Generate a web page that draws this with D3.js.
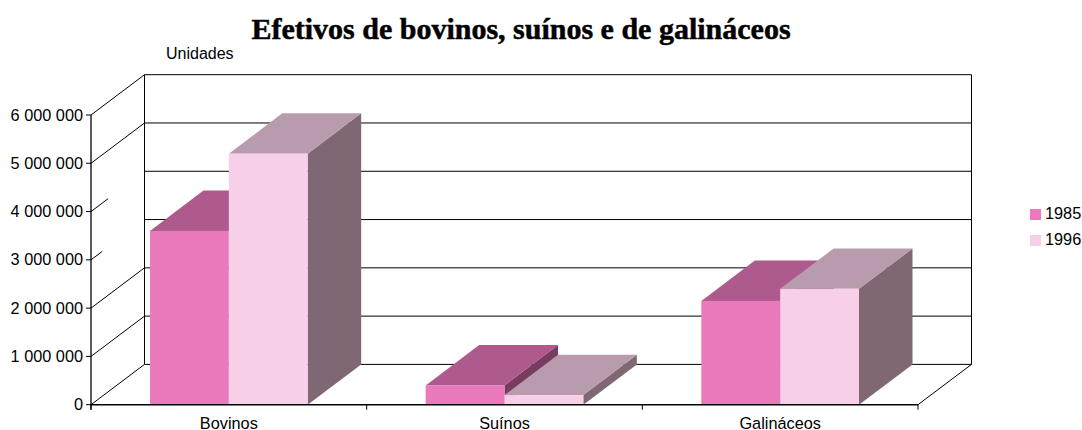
<!DOCTYPE html>
<html>
<head>
<meta charset="utf-8">
<script src="https://cdn.jsdelivr.net/npm/d3@7"></script>
<style>
  html, body { margin: 0; padding: 0; background: #fff; }
  text { font-family: "Liberation Sans", Arial, sans-serif; fill: #000; }
</style>
</head>
<body>
<div id="chart"></div>
<script>
// Chart data
var categories = ["Bovinos", "Suínos", "Galináceos"];
var years = ["1985", "1996"];
var values1985 = [3600000, 400000, 2150000];
var values1996 = [5200000, 200000, 2400000];
var yTicks = [0, 1000000, 2000000, 3000000, 4000000, 5000000, 6000000];

var width = 1082, height = 430;

// Front plane of the 3D box and how far back the depth goes
var front = {left: 91, right: 918, bottom: 404.7, top: 115};
var depth = {x: 53.5, y: -40.3};

// How much of each side wall line can be seen (two are cut short in the original)
var sideVisible = {0: 1, 1000000: 1, 2000000: 1, 3000000: 0.21, 4000000: 0.32, 5000000: 1, 6000000: 1};

var palette = {
  "1985": {front: "#ea7abc", top: "#ae5a8c", side: "#783c60"},
  "1996": {front: "#f7cfe9", top: "#b99bae", side: "#7f6873"}
};

var svg = d3.select("#chart")
  .append("svg")
    .attr("width", width)
    .attr("height", height)
    .style("display", "block");

var x = d3.scaleBand()
    .domain(categories)
    .range([front.left, front.right])
    .paddingInner(0.428)
    .paddingOuter(0.214);

var xSeries = d3.scaleBand()
    .domain(years)
    .range([0, x.bandwidth()]);

var y = d3.scaleLinear()
    .domain([0, 6000000])
    .range([front.bottom, front.top]);

var fmt = function(d) { return d3.format(",")(d).replace(/,/g, " "); };

// Back wall and side wall lines
var grid = svg.append("g").attr("fill", "none").attr("stroke", "#000");

grid.selectAll(".back")
  .data(yTicks)
  .join("line")
    .attr("class", "back")
    .attr("x1", front.left + depth.x)
    .attr("x2", front.right + depth.x)
    .attr("y1", function(d) { return y(d) + depth.y; })
    .attr("y2", function(d) { return y(d) + depth.y; })
    .attr("stroke-width", 1);

grid.selectAll(".side")
  .data(yTicks)
  .join("line")
    .attr("class", "side")
    .attr("x1", front.left)
    .attr("y1", function(d) { return y(d); })
    .attr("x2", function(d) { return front.left + depth.x * sideVisible[d]; })
    .attr("y2", function(d) { return y(d) + depth.y * sideVisible[d]; })
    .attr("stroke-width", 1);

// Back wall verticals and the floor edge on the right
grid.append("line")
    .attr("x1", front.left + depth.x).attr("x2", front.left + depth.x)
    .attr("y1", y(6000000) + depth.y).attr("y2", y(0) + depth.y);
grid.append("line")
    .attr("x1", front.right + depth.x).attr("x2", front.right + depth.x)
    .attr("y1", y(6000000) + depth.y).attr("y2", y(0) + depth.y);
grid.append("line")
    .attr("x1", front.right).attr("x2", front.right + depth.x)
    .attr("y1", y(0)).attr("y2", y(0) + depth.y);

// Flatten the two series into one list of bars
var bars = [];
categories.forEach(function(c, i) {
  bars.push({category: c, year: "1985", value: values1985[i]});
  bars.push({category: c, year: "1996", value: values1996[i]});
});

// Bars are drawn left to right so the next one covers the side of the previous one
var bar = svg.selectAll(".bar")
  .data(bars)
  .join("g")
    .attr("class", "bar");

function corners(d) {
  return {
    x0: x(d.category) + xSeries(d.year),
    x1: x(d.category) + xSeries(d.year) + xSeries.bandwidth(),
    y0: y(0),
    y1: y(d.value)
  };
}

// Side face
bar.append("path")
    .attr("fill", function(d) { return palette[d.year].side; })
    .attr("d", function(d) {
      var c = corners(d);
      return "M" + c.x1 + "," + c.y0 +
        "L" + (c.x1 + depth.x) + "," + (c.y0 + depth.y) +
        "L" + (c.x1 + depth.x) + "," + (c.y1 + depth.y) +
        "L" + c.x1 + "," + c.y1 + "Z";
    });

// Top face
bar.append("path")
    .attr("fill", function(d) { return palette[d.year].top; })
    .attr("d", function(d) {
      var c = corners(d);
      return "M" + c.x0 + "," + c.y1 +
        "L" + c.x1 + "," + c.y1 +
        "L" + (c.x1 + depth.x) + "," + (c.y1 + depth.y) +
        "L" + (c.x0 + depth.x) + "," + (c.y1 + depth.y) + "Z";
    });

// Front face
bar.append("rect")
    .attr("fill", function(d) { return palette[d.year].front; })
    .attr("x", function(d) { return corners(d).x0; })
    .attr("y", function(d) { return corners(d).y1; })
    .attr("width", xSeries.bandwidth())
    .attr("height", function(d) { return y(0) - y(d.value); });

// Y axis
var axisY = svg.append("g").attr("stroke", "#000");
axisY.append("line")
    .attr("x1", front.left).attr("x2", front.left)
    .attr("y1", y(6000000)).attr("y2", y(0) + 5)
    .attr("stroke-width", 1.3);
axisY.selectAll(".tick")
  .data(yTicks)
  .join("line")
    .attr("class", "tick")
    .attr("x1", front.left - 5).attr("x2", front.left)
    .attr("y1", function(d) { return y(d); })
    .attr("y2", function(d) { return y(d); });

svg.selectAll(".ylabel")
  .data(yTicks)
  .join("text")
    .attr("class", "ylabel")
    .attr("x", 83)
    .attr("y", function(d) { return y(d) + 5.5; })
    .attr("text-anchor", "end")
    .style("font-size", "16.3px")
    .text(fmt);

// X axis: baseline, ticks between groups, labels
var axisX = svg.append("g").attr("stroke", "#000");
axisX.append("line")
    .attr("x1", front.left).attr("x2", front.right)
    .attr("y1", y(0)).attr("y2", y(0))
    .attr("stroke-width", 1.5);
axisX.selectAll(".xtick")
  .data(d3.range(categories.length + 1))
  .join("line")
    .attr("class", "xtick")
    .attr("x1", function(i) { return front.left + i * x.step(); })
    .attr("x2", function(i) { return front.left + i * x.step(); })
    .attr("y1", y(0))
    .attr("y2", y(0) + 5);

svg.selectAll(".xlabel")
  .data(categories)
  .join("text")
    .attr("class", "xlabel")
    .attr("x", function(d) { return x(d) + x.bandwidth() / 2; })
    .attr("y", 428.5)
    .attr("text-anchor", "middle")
    .style("font-size", "16.3px")
    .text(function(d) { return d; });

// Title and unit label
svg.append("text")
    .attr("x", 521)
    .attr("y", 38.5)
    .attr("text-anchor", "middle")
    .attr("stroke", "#000")
    .attr("stroke-width", 0.5)
    .style("font-family", "'Liberation Serif', 'Times New Roman', serif")
    .style("font-weight", "bold")
    .style("font-size", "30px")
    .text("Efetivos de bovinos, suínos e de galináceos");

svg.append("text")
    .attr("x", 166)
    .attr("y", 59)
    .style("font-size", "16px")
    .text("Unidades");

// Legend
var legend = svg.selectAll(".legend")
  .data(years)
  .join("g")
    .attr("class", "legend")
    .attr("transform", function(d, i) { return "translate(1030," + (209 + i * 26) + ")"; });

legend.append("rect")
    .attr("width", 11)
    .attr("height", 11)
    .attr("fill", function(d) { return palette[d].front; });

legend.append("text")
    .attr("x", 15)
    .attr("y", 9.5)
    .style("font-size", "16.3px")
    .text(function(d) { return d; });
</script>
</body>
</html>
